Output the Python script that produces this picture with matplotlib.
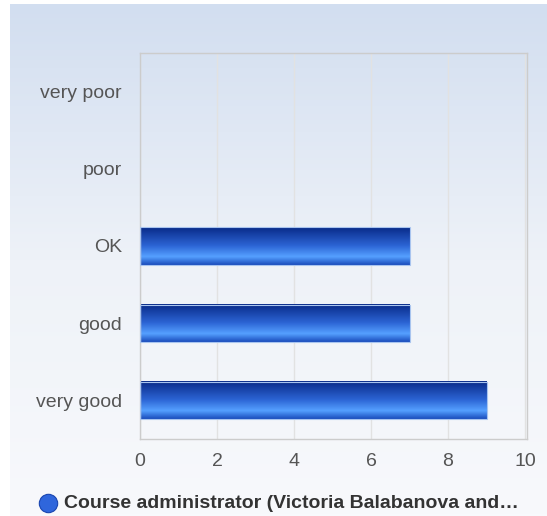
import numpy as np
import matplotlib.pyplot as plt
from matplotlib.colors import LinearSegmentedColormap

# Data
categories = ["very good", "good", "OK", "poor", "very poor"]
values = [9, 7, 7, 0, 0]
xticks = [0, 2, 4, 6, 8, 10]
series_name = "Course administrator (Victoria Balabanova and\u2026"

fig = plt.figure(figsize=(5.47, 5.16), dpi=100)

# background panel with vertical gradient
bg = fig.add_axes([10 / 547, 0, 537 / 547, 512 / 516], zorder=0)
bg_cmap = LinearSegmentedColormap.from_list("bg", ["#f8f9fc", "#eef2f8", "#d2def0"])
bg.imshow(np.linspace(0, 1, 256).reshape(-1, 1), aspect="auto", cmap=bg_cmap,
          origin="lower", extent=[0, 1, 0, 1])
bg.axis("off")

# plot area
ax = fig.add_axes([140 / 547, (516 - 439) / 516, 387 / 547, 386 / 516], zorder=1)
ax.patch.set_alpha(0)

bars = ax.barh(range(len(categories)), values, height=0.48, color="none",
               edgecolor="#a8c4ef", linewidth=0.8, zorder=3)

# gradient fill inside each bar
bar_cmap = LinearSegmentedColormap.from_list(
    "bar", [(0.0, "#1a4cbc"), (0.22, "#55a0ff"), (0.5, "#2d66d6"), (1.0, "#082a88")])
grad = np.linspace(0, 1, 128).reshape(-1, 1)
for b in bars:
    if b.get_width() <= 0:
        b.set_visible(False)
        continue
    x0, y0, w, h = b.get_x(), b.get_y(), b.get_width(), b.get_height()
    ax.imshow(grad, aspect="auto", cmap=bar_cmap, origin="lower",
              extent=[x0, x0 + w, y0, y0 + h], zorder=2)

ax.set_xlim(0, 10.05)
ax.set_ylim(-0.5, len(categories) - 0.5)
ax.set_xticks(xticks)
ax.set_yticks(range(len(categories)))
ax.set_yticklabels(categories)
ax.tick_params(axis="both", length=0, labelsize=14, colors="#555555")
ax.tick_params(axis="y", pad=13)
ax.tick_params(axis="x", pad=10)
ax.grid(axis="x", color="#e2e2e2", linewidth=1, zorder=1)
ax.set_axisbelow(True)
for s in ax.spines.values():
    s.set_color("#cccccc")
    s.set_linewidth(1)

# legend
lg = fig.add_axes([0, 0, 1, 1], zorder=2)
lg.axis("off")
lg.set_xlim(0, 547)
lg.set_ylim(516, 0)
lg.scatter([48], [503], s=175, color="#2f66dc", edgecolor="#1a46b0", linewidth=0.8)
lg.text(64, 503, series_name, fontsize=14, fontweight="bold", color="#333333",
        va="center", ha="left", family=["Liberation Sans", "DejaVu Sans"])

for lbl in ax.get_xticklabels() + ax.get_yticklabels():
    lbl.set_family(["Liberation Sans", "DejaVu Sans"])

fig.savefig("out.png", dpi=100)
